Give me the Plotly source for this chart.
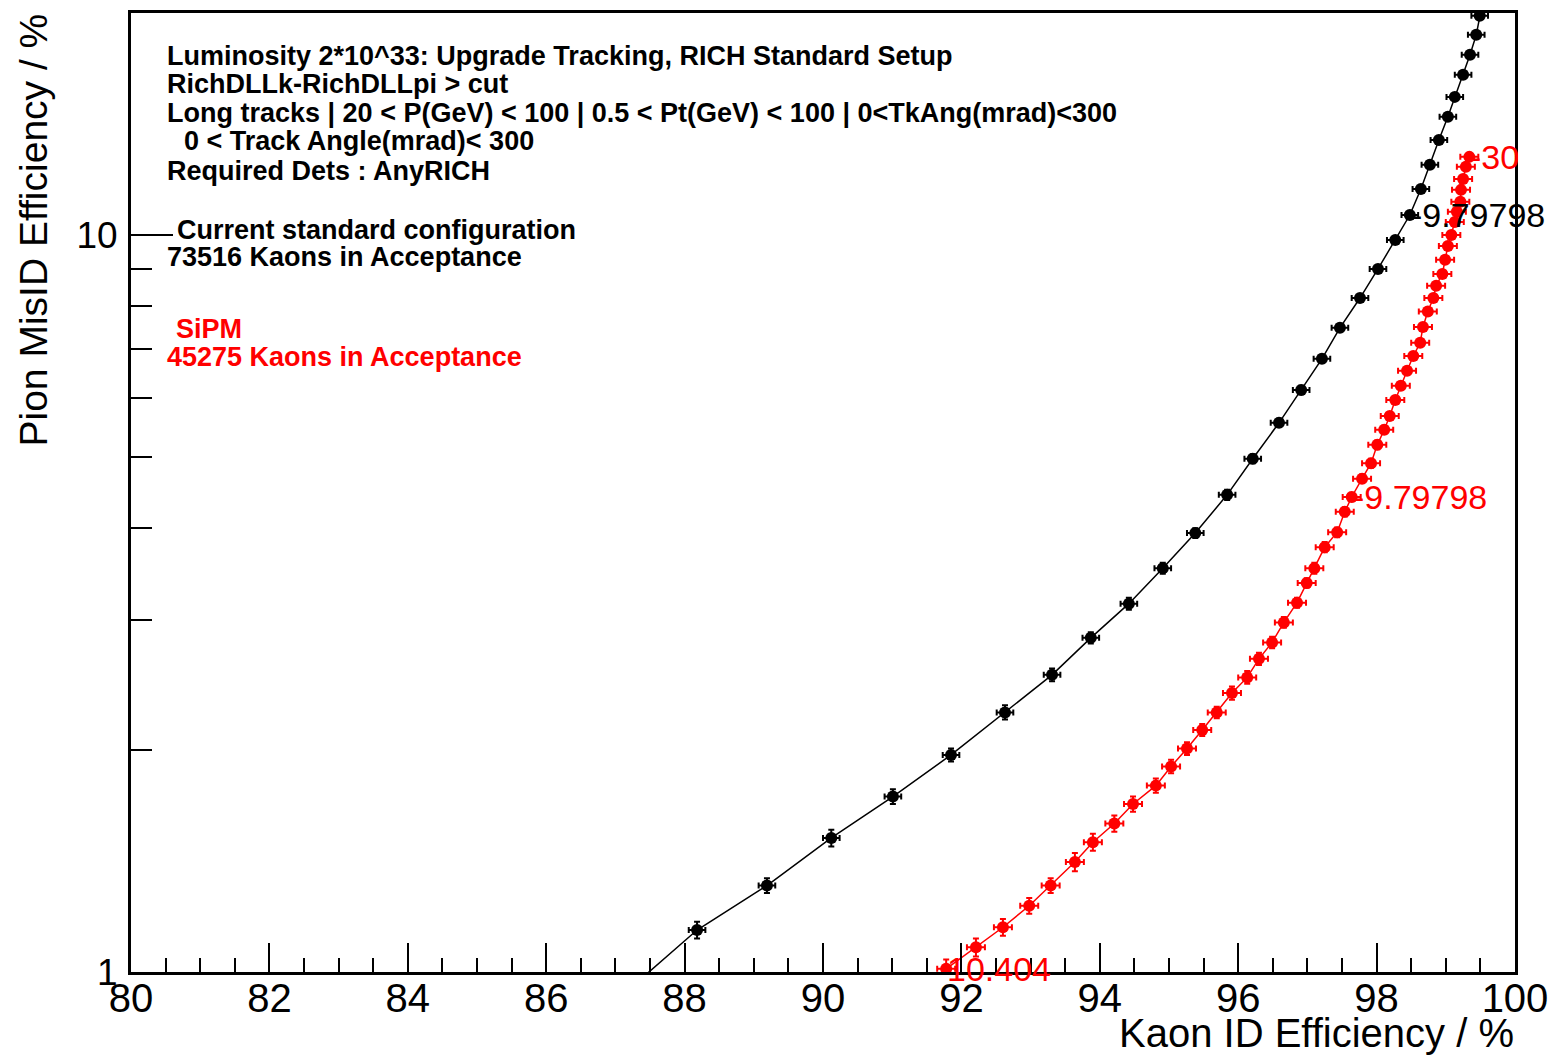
import numpy as np
import plotly.graph_objects as go

# Kaon ID efficiency (%) vs pion mis-ID efficiency (%), one point per DLL cut
std_kaon_eff = [99.55, 99.49, 99.44, 99.35, 99.25, 99.13, 99.03, 98.90, 98.77, 98.64,
                98.48, 98.27, 98.02, 97.76, 97.47, 97.21, 96.91, 96.59, 96.21, 95.84,
                95.38, 94.91, 94.42, 93.87, 93.31, 92.63, 91.85, 91.01, 90.12, 89.19,
                88.18, 87.10]
std_pion_misid = [21.1, 19.83, 18.68, 17.55, 16.49, 15.39, 14.46, 13.45, 12.45, 11.54,
                  10.64, 9.84, 8.99, 8.21, 7.48, 6.79, 6.16, 5.56, 4.97, 4.44,
                  3.94, 3.53, 3.16, 2.84, 2.53, 2.25, 1.97, 1.73, 1.52, 1.31,
                  1.14, 0.93]
std_kaon_err = 0.12
std_pion_err = [0.12, 0.12, 0.12, 0.12, 0.11, 0.11, 0.11, 0.11, 0.10, 0.10,
                0.10, 0.09, 0.09, 0.09, 0.08, 0.08, 0.08, 0.07, 0.07, 0.07,
                0.06, 0.06, 0.06, 0.05, 0.05, 0.05, 0.04, 0.04, 0.04, 0.03,
                0.03, 0.03]

sipm_kaon_eff = [99.34, 99.29, 99.25, 99.22, 99.21, 99.16, 99.13, 99.08, 99.03, 98.99,
                 98.95, 98.86, 98.82, 98.74, 98.67, 98.63, 98.53, 98.44, 98.35, 98.27,
                 98.19, 98.11, 98.01, 97.92, 97.79, 97.64, 97.54, 97.43, 97.25, 97.10,
                 96.99, 96.85, 96.66, 96.49, 96.30, 96.13, 95.91, 95.69, 95.48, 95.26,
                 95.03, 94.81, 94.48, 94.21, 93.90, 93.64, 93.29, 92.98, 92.60, 92.21,
                 91.78]
sipm_pion_misid = [12.76, 12.37, 11.91, 11.51, 11.09, 10.75, 10.41, 10.00, 9.66, 9.25,
                   8.85, 8.53, 8.21, 7.87, 7.50, 7.14, 6.85, 6.54, 6.24, 5.97,
                   5.68, 5.44, 5.19, 4.90, 4.67, 4.41, 4.21, 3.95, 3.77, 3.53,
                   3.37, 3.17, 2.98, 2.80, 2.66, 2.51, 2.39, 2.25, 2.13, 2.01,
                   1.90, 1.79, 1.69, 1.59, 1.50, 1.41, 1.31, 1.23, 1.15, 1.08,
                   1.01]
sipm_kaon_err = 0.13
sipm_pion_err = [0.11, 0.11, 0.11, 0.10, 0.10, 0.10, 0.10, 0.10, 0.09, 0.09,
                 0.09, 0.09, 0.09, 0.08, 0.08, 0.08, 0.08, 0.08, 0.07, 0.07,
                 0.07, 0.07, 0.07, 0.07, 0.06, 0.06, 0.06, 0.06, 0.06, 0.06,
                 0.05, 0.05, 0.05, 0.05, 0.05, 0.05, 0.05, 0.04, 0.04, 0.04,
                 0.04, 0.04, 0.04, 0.04, 0.04, 0.04, 0.03, 0.03, 0.03, 0.03,
                 0.03]

# Cut-value labels: (series, point index, text)
cut_labels = [("std", 10, "-9.79798"),
              ("sipm", 0, "-30"),
              ("sipm", 25, "-9.79798"),
              ("sipm", 50, "10.404")]

x_ticks = list(range(80, 101, 2))
y_ticks = [1, 10]
y_minor = [2, 3, 4, 5, 6, 7, 8, 9]

header_lines = [
    ("Luminosity 2*10^33: Upgrade Tracking, RICH Standard Setup", 166, 56),
    ("RichDLLk-RichDLLpi &gt; cut", 166, 84),
    ("Long tracks | 20 &lt; P(GeV) &lt; 100 | 0.5 &lt; Pt(GeV) &lt; 100 | 0&lt;TkAng(mrad)&lt;300", 166, 113),
    ("0 &lt; Track Angle(mrad)&lt; 300", 183, 141),
    ("Required Dets : AnyRICH", 166, 171),
]
legend_lines = [
    ("Current standard configuration", 176, 230, "black"),
    ("73516 Kaons in Acceptance", 166, 257, "black"),
    ("SiPM", 175, 329, "red"),
    ("45275 Kaons in Acceptance", 166, 357, "red"),
]

W, H = 1552, 1056
ML, MR, MT, MB = 131, 37, 13, 84
PW, PH = W - ML - MR, H - MT - MB
FONT = "Liberation Sans, Arial, sans-serif"


def px_to_paper(px, py):
    return (px - ML) / PW, (H - MB - py) / PH


fig = go.Figure()

for xs, ys, ex, ey, col in [
    (std_kaon_eff, std_pion_misid, std_kaon_err, std_pion_err, "black"),
    (sipm_kaon_eff, sipm_pion_misid, sipm_kaon_err, sipm_pion_err, "red"),
]:
    fig.add_trace(go.Scatter(
        x=xs, y=ys, mode="lines+markers",
        line=dict(color=col, width=1.5),
        marker=dict(color=col, size=12, symbol="circle"),
        error_x=dict(type="constant", value=ex, color=col, thickness=2, width=3),
        error_y=dict(type="data", array=ey, color=col, thickness=2, width=3),
        showlegend=False,
    ))

series = {"std": (std_kaon_eff, std_pion_misid, "black"),
          "sipm": (sipm_kaon_eff, sipm_pion_misid, "red")}
annotations = []
for key, idx, txt in cut_labels:
    xs, ys, col = series[key]
    annotations.append(dict(
        x=xs[idx], y=np.log10(ys[idx]), xref="x", yref="y",
        text=txt, showarrow=False, xanchor="left", yanchor="middle",
        font=dict(family=FONT, size=34, color=col), borderpad=0,
    ))

for txt, px, py in header_lines:
    xp, yp = px_to_paper(px, py)
    annotations.append(dict(
        x=xp, y=yp, xref="paper", yref="paper", text="<b>" + txt + "</b>",
        showarrow=False, xanchor="left", yanchor="middle",
        font=dict(family=FONT, size=27, color="black"), borderpad=0,
    ))
for txt, px, py, col in legend_lines:
    xp, yp = px_to_paper(px, py)
    annotations.append(dict(
        x=xp, y=yp, xref="paper", yref="paper", text="<b>" + txt + "</b>",
        showarrow=False, xanchor="left", yanchor="middle",
        font=dict(family=FONT, size=27, color=col), borderpad=0,
    ))

# Axis titles, right-aligned to the axis ends
xp, yp = px_to_paper(1515, 1033)
annotations.append(dict(
    x=1.0, y=yp, xref="paper", yref="paper", text="Kaon ID Efficiency / %",
    showarrow=False, xanchor="right", yanchor="middle",
    font=dict(family=FONT, size=40, color="black"), borderpad=0,
))
xp, yp = px_to_paper(33, 12)
annotations.append(dict(
    x=xp, y=1.0, xref="paper", yref="paper", text="Pion MisID Efficiency / %",
    textangle=-90, showarrow=False, xanchor="center", yanchor="top",
    font=dict(family=FONT, size=39, color="black"), borderpad=0,
))

fig.update_layout(
    width=W, height=H,
    margin=dict(l=ML, r=MR, t=MT, b=MB, autoexpand=False),
    paper_bgcolor="white", plot_bgcolor="white",
    annotations=annotations,
    showlegend=False,
)
fig.update_xaxes(
    range=[80, 100], tickmode="array", tickvals=x_ticks,
    ticktext=[str(v) for v in x_ticks],
    ticks="inside", ticklen=29, tickwidth=2, tickcolor="black",
    minor=dict(dtick=0.5, tick0=80, ticks="inside", ticklen=14, tickwidth=2,
               tickcolor="black", showgrid=False),
    showline=True, linecolor="black", linewidth=3, mirror=True,
    showgrid=False, zeroline=False, automargin=False,
    tickfont=dict(family=FONT, size=40, color="black"),
    ticklabelstandoff=-11,
)
fig.update_yaxes(
    type="log", range=[0, np.log10(20)], tickmode="array", tickvals=y_ticks,
    ticktext=[str(v) for v in y_ticks],
    ticks="inside", ticklen=42, tickwidth=2, tickcolor="black",
    minor=dict(tickmode="array", tickvals=y_minor, ticks="inside", ticklen=21,
               tickwidth=2, tickcolor="black", showgrid=False),
    showline=True, linecolor="black", linewidth=3, mirror=True,
    showgrid=False, zeroline=False, automargin=False,
    tickfont=dict(family=FONT, size=37, color="black"),
    ticklabelstandoff=3,
)

fig.write_html("out.html")
